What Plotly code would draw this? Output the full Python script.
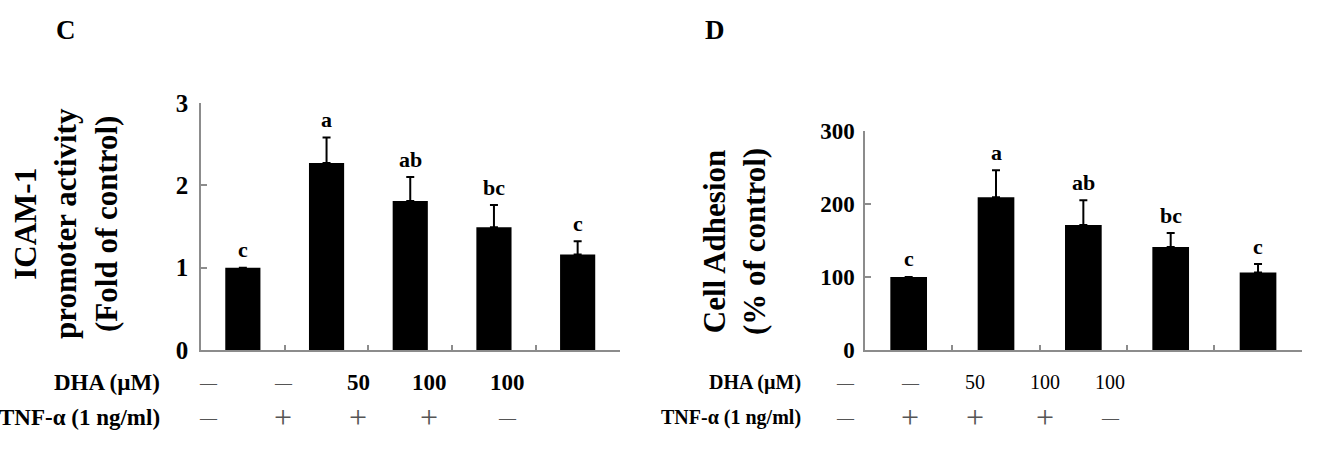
import plotly.graph_objects as go

W, H = 1327, 462

# ---- data ----
groups = ["G1", "G2", "G3", "G4", "G5"]
icam_values = [1.0, 2.27, 1.81, 1.49, 1.16]
icam_errors = [0.0, 0.31, 0.29, 0.27, 0.16]
icam_letters = ["c", "a", "ab", "bc", "c"]

adh_values = [100, 209, 171, 141, 106]
adh_errors = [0, 37, 34, 19, 11.5]
adh_letters = ["c", "a", "ab", "bc", "c"]

dha_row = ["—", "—", "50", "100", "100"]
tnf_row = ["—", "+", "+", "+", "—"]
dha_label = "DHA (µM)"
tnf_label = "TNF-α (1 ng/ml)"

c_yticks = [0, 1, 2, 3]
d_yticks = [0, 100, 200, 300]

# ---- layout helpers (pixel -> paper) ----
def px(x):
    return x / W

def py(y):
    return (H - y) / H

SERIF = "Liberation Serif, Times New Roman, serif"
AXC = "#8c8c8c"

fig = go.Figure()

fig.add_trace(go.Bar(
    x=groups, y=icam_values, width=0.42, marker=dict(color="black", line=dict(width=0)),
    error_y=dict(type="data", symmetric=False, array=icam_errors,
                 arrayminus=[0] * len(icam_errors), color="black", thickness=2, width=4),
    xaxis="x", yaxis="y", showlegend=False))

fig.add_trace(go.Bar(
    x=groups, y=adh_values, width=0.42, marker=dict(color="black", line=dict(width=0)),
    error_y=dict(type="data", symmetric=False, array=adh_errors,
                 arrayminus=[0] * len(adh_errors), color="black", thickness=2, width=4),
    xaxis="x2", yaxis="y2", showlegend=False))

xcommon = dict(type="category", range=[-0.5, 4.5], showline=True, linecolor=AXC, linewidth=1.5,
               ticks="inside", tickson="boundaries", ticklen=5, tickcolor=AXC, tickwidth=1.5,
               showticklabels=False, showgrid=False, zeroline=False, fixedrange=True,
               automargin=False)

fig.update_layout(
    template="none",
    width=W, height=H, margin=dict(l=0, r=0, t=0, b=0, autoexpand=False),
    paper_bgcolor="white", plot_bgcolor="white",
    xaxis=dict(domain=[px(201), px(619.5)], anchor="y", **xcommon),
    xaxis2=dict(domain=[px(865), px(1301.7)], anchor="y2", **xcommon),
    yaxis=dict(domain=[py(350), py(103)], anchor="x", range=[0, 3], tickvals=c_yticks,
               showline=True, linecolor=AXC, linewidth=1.5, ticks="inside", ticklen=6,
               tickcolor=AXC, tickwidth=1.5, showgrid=False, zeroline=False,
               tickfont=dict(family=SERIF, size=25, color="black", weight="bold"),
               ticklabelstandoff=6, automargin=False),
    yaxis2=dict(domain=[py(350), py(130.7)], anchor="x2", range=[0, 300], tickvals=d_yticks,
                showline=True, linecolor=AXC, linewidth=1.5, ticks="inside", ticklen=6,
                tickcolor=AXC, tickwidth=1.5, showgrid=False, zeroline=False,
                tickfont=dict(family=SERIF, size=23, color="black", weight="bold"),
                ticklabelstandoff=4, automargin=False),
    bargap=0.58,
)

ann = []
# significance letters
for g, v, e, t in zip(groups, icam_values, icam_errors, icam_letters):
    ann.append(dict(x=g, y=v + e, xref="x", yref="y", text=t, showarrow=False,
                    yanchor="middle", yshift=18,
                    font=dict(family=SERIF, size=22, color="black", weight="bold")))
for g, v, e, t in zip(groups, adh_values, adh_errors, adh_letters):
    ann.append(dict(x=g, y=v + e, xref="x2", yref="y2", text=t, showarrow=False,
                    yanchor="middle", yshift=18,
                    font=dict(family=SERIF, size=22, color="black", weight="bold")))

# axis titles
ann.append(dict(x=px(66), y=py(224), xref="paper", yref="paper", textangle=-90,
                text="ICAM-1<br>promoter activity<br>(Fold of control)", showarrow=False,
                xanchor="center", yanchor="middle",
                font=dict(family=SERIF, size=31, color="black", weight="bold")))
ann.append(dict(x=px(734), y=py(242), xref="paper", yref="paper", textangle=-90,
                text="Cell Adhesion<br>(% of control)", showarrow=False,
                xanchor="center", yanchor="middle",
                font=dict(family=SERIF, size=31, color="black", weight="bold")))

# panel letters
ann.append(dict(x=px(66), y=py(30), xref="paper", yref="paper", text="C", showarrow=False,
                xanchor="center", yanchor="middle",
                font=dict(family=SERIF, size=27, color="black", weight="bold")))
ann.append(dict(x=px(715), y=py(30), xref="paper", yref="paper", text="D", showarrow=False,
                xanchor="center", yanchor="middle",
                font=dict(family=SERIF, size=27, color="black", weight="bold")))

# treatment table
tables = [
    dict(label_x=162, cols=[208, 283, 358, 429, 507], size=23, bold_vals=True),
    dict(label_x=803, cols=[845, 910, 975, 1045, 1110], size=20, bold_vals=False),
]
rows_y = [382, 417]
for tb in tables:
    for row_label, row_vals, ry in [(dha_label, dha_row, rows_y[0]), (tnf_label, tnf_row, rows_y[1])]:
        ann.append(dict(x=px(tb["label_x"]), y=py(ry), xref="paper", yref="paper",
                        text=row_label, showarrow=False, xanchor="right", yanchor="middle",
                        font=dict(family=SERIF, size=tb["size"], color="black", weight="bold")))
        for cx, v in zip(tb["cols"], row_vals):
            if v in ("—", "+"):
                f = dict(family=SERIF, size=32 if v == "+" else 17, color="#555555")
            else:
                f = dict(family=SERIF, size=tb["size"], color="black",
                         weight="bold" if tb["bold_vals"] else "normal")
            ann.append(dict(x=px(cx), y=py(ry), xref="paper", yref="paper", text=v,
                            showarrow=False, xanchor="center", yanchor="middle", font=f))

fig.update_layout(annotations=ann)
fig.write_html("out.html")
